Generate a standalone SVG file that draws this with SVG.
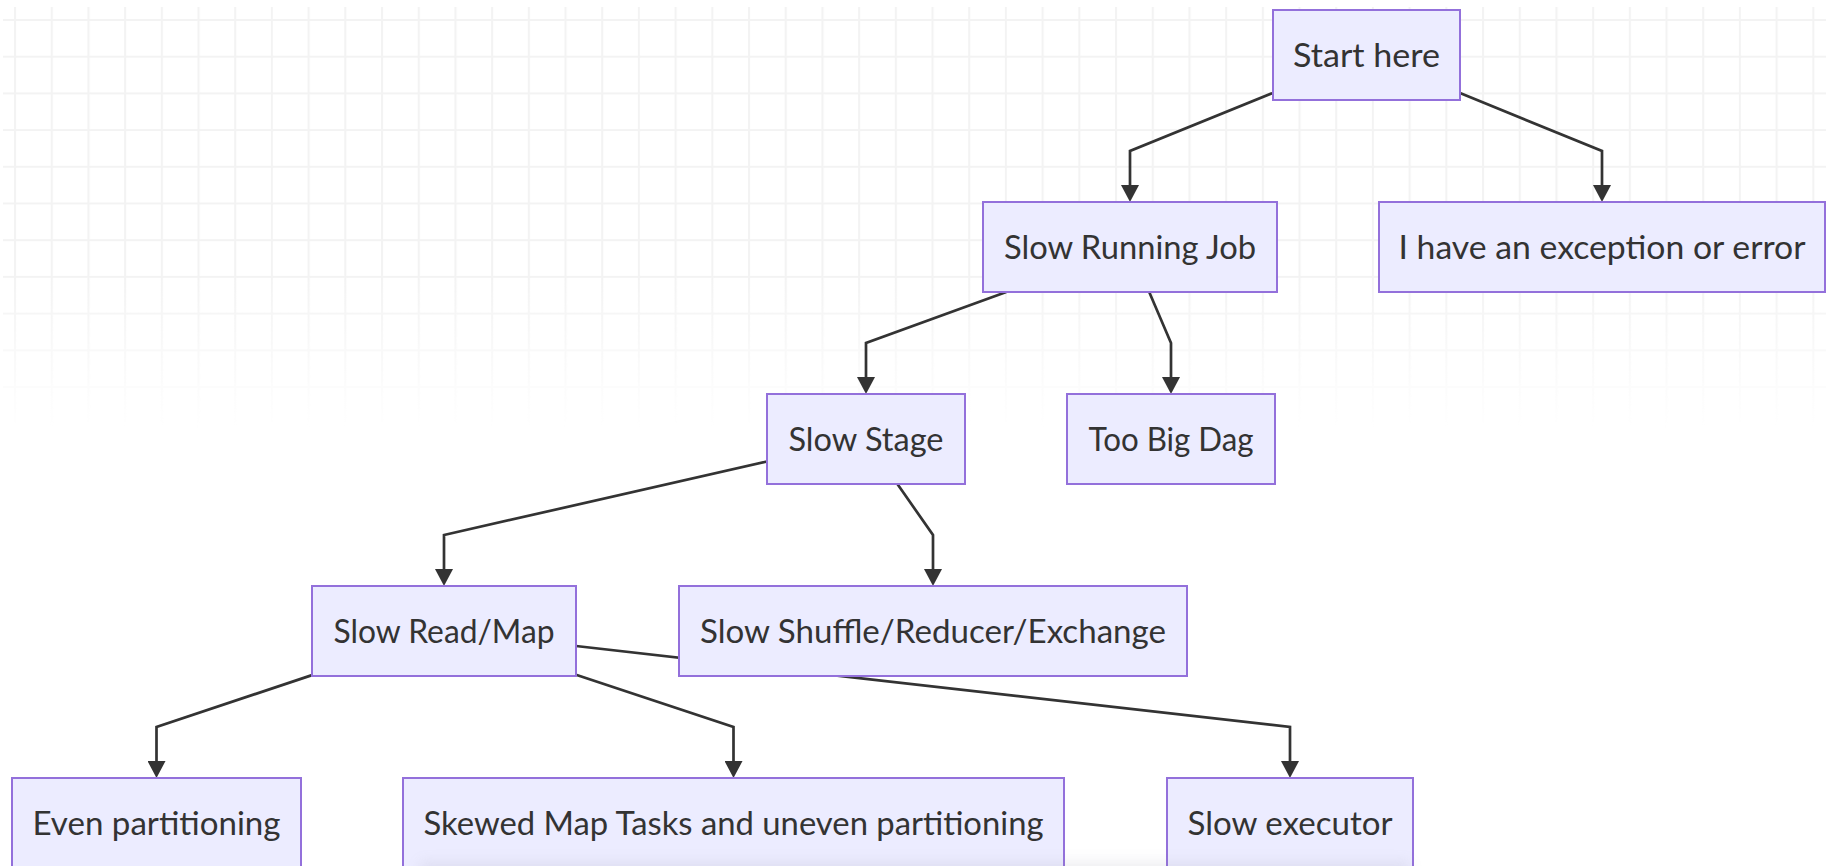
<svg xmlns="http://www.w3.org/2000/svg" width="1826" height="866" viewBox="0 0 1826 866">
  <style>
    .node rect { fill: #ECECFF; stroke: #9370DB; stroke-width: 2; }
    .node text { font-family: Lato, "Open Sans", "Liberation Sans", sans-serif; font-size: 33px; fill: #333333; text-anchor: middle; }
    .edge { fill: none; stroke: #333333; stroke-width: 2.7; stroke-linejoin: miter; }
  </style>
  <defs>
    <pattern id="grid" patternUnits="userSpaceOnUse" x="14" y="19" width="36.7" height="36.7">
      <path d="M1,0 V36.7 M0,1 H36.7" stroke="#f3f3f3" stroke-width="2.2" fill="none"/>
    </pattern>
    <linearGradient id="fadeGrad" x1="0" y1="0" x2="0" y2="1">
      <stop offset="0" stop-color="#fff"/>
      <stop offset="0.62" stop-color="#fff"/>
      <stop offset="0.98" stop-color="#000"/>
    </linearGradient>
    <mask id="fade">
      <rect x="0" y="7" width="1826" height="430" fill="url(#fadeGrad)"/>
    </mask>
    <marker id="arrow" markerUnits="userSpaceOnUse" viewBox="0 0 17 18" refX="5" refY="9" markerWidth="17" markerHeight="18" orient="auto">
      <path d="M0,0 L17,9 L0,18 z" fill="#333333"/>
    </marker>
    <filter id="soft" x="-10%" y="-100%" width="120%" height="300%">
      <feGaussianBlur stdDeviation="7"/>
    </filter>
  </defs>

  <!-- background -->
  <rect x="0" y="0" width="1826" height="866" fill="#ffffff"/>
  <rect x="3" y="7" width="1823" height="430" fill="url(#grid)" mask="url(#fade)"/>

  <!-- connectors (drawn beneath the nodes) -->
  <g id="edges">
    <path class="edge" d="M1273,92.9 L1130,151 L1130,190" marker-end="url(#arrow)"/>
    <path class="edge" d="M1460,93.1 L1602,151 L1602,190" marker-end="url(#arrow)"/>
    <path class="edge" d="M1006.3,292 L866,343 L866,382" marker-end="url(#arrow)"/>
    <path class="edge" d="M1149.2,292 L1171,343 L1171,382" marker-end="url(#arrow)"/>
    <path class="edge" d="M767,461.5 L444,535 L444,574" marker-end="url(#arrow)"/>
    <path class="edge" d="M897.4,484 L933,535 L933,574" marker-end="url(#arrow)"/>
    <path class="edge" d="M312,675.1 L156.5,727 L156.5,766" marker-end="url(#arrow)"/>
    <path class="edge" d="M576,674.8 L733.5,727 L733.5,766" marker-end="url(#arrow)"/>
    <path class="edge" d="M576,646 L1290,727 L1290,766" marker-end="url(#arrow)"/>
  </g>

  <!-- nodes -->
  <g id="start" class="node">
    <rect x="1273" y="10" width="187" height="90"/>
    <text x="1366.5" y="67" textLength="147" lengthAdjust="spacingAndGlyphs">Start here</text>
  </g>
  <g id="slowJob" class="node">
    <rect x="983" y="202" width="294" height="90"/>
    <text x="1130" y="259" textLength="252" lengthAdjust="spacingAndGlyphs">Slow Running Job</text>
  </g>
  <g id="exception" class="node">
    <rect x="1379" y="202" width="446" height="90"/>
    <text x="1602" y="259" textLength="407" lengthAdjust="spacingAndGlyphs">I have an exception or error</text>
  </g>
  <g id="slowStage" class="node">
    <rect x="767" y="394" width="198" height="90"/>
    <text x="866" y="451" textLength="155" lengthAdjust="spacingAndGlyphs">Slow Stage</text>
  </g>
  <g id="bigDag" class="node">
    <rect x="1067" y="394" width="208" height="90"/>
    <text x="1171" y="451" textLength="165" lengthAdjust="spacingAndGlyphs">Too Big Dag</text>
  </g>
  <g id="slowRead" class="node">
    <rect x="312" y="586" width="264" height="90"/>
    <text x="444" y="643" textLength="221" lengthAdjust="spacingAndGlyphs">Slow Read/Map</text>
  </g>
  <g id="slowShuffle" class="node">
    <rect x="679" y="586" width="508" height="90"/>
    <text x="933" y="643" textLength="466" lengthAdjust="spacingAndGlyphs">Slow Shuffle/Reducer/Exchange</text>
  </g>
  <g id="evenPart" class="node">
    <rect x="12" y="778" width="289" height="90"/>
    <text x="156.5" y="835" textLength="248" lengthAdjust="spacingAndGlyphs">Even partitioning</text>
  </g>
  <g id="skewed" class="node">
    <rect x="403" y="778" width="661" height="90"/>
    <text x="733.5" y="835" textLength="620" lengthAdjust="spacingAndGlyphs">Skewed Map Tasks and uneven partitioning</text>
  </g>
  <g id="slowExecutor" class="node">
    <rect x="1167" y="778" width="246" height="90"/>
    <text x="1290" y="835" textLength="205" lengthAdjust="spacingAndGlyphs">Slow executor</text>
  </g>

  <!-- soft shadow along the bottom edge -->
  <rect x="420" y="862" width="990" height="26" fill="#8c8ca0" opacity="0.15" filter="url(#soft)"/>
</svg>
